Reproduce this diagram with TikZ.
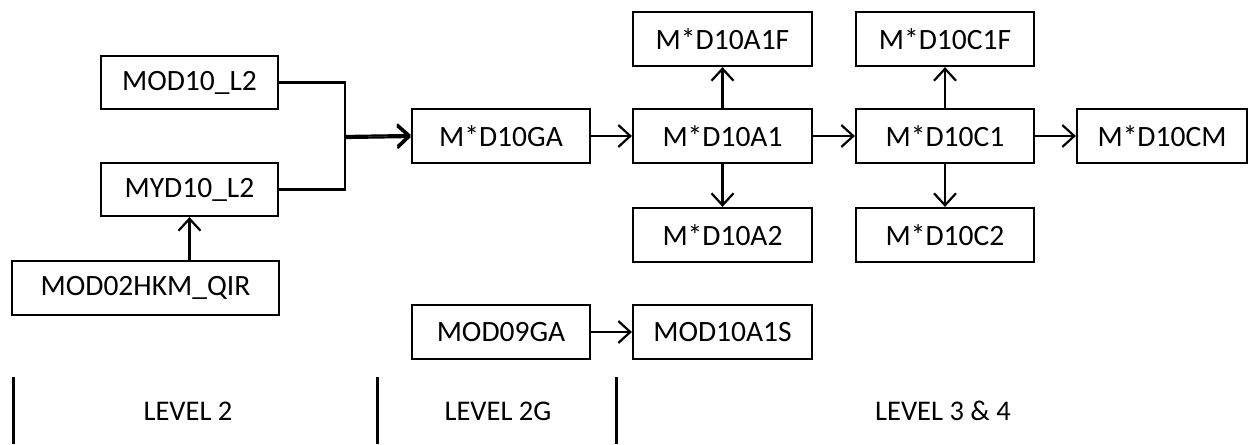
\documentclass[tikz,border=0pt]{standalone}
\usepackage{fontspec}
\setmainfont{Carlito}
\usetikzlibrary{arrows.meta}
\tikzset{
  prod/.style={draw, line width=2.2pt, minimum height=53pt, inner sep=0pt,
    font=\fontsize{29.5}{31}\selectfont},
  arr/.style={line width=2.2pt, -{Straight Barb[length=12pt,width=22pt,line width=2.2pt]}},
  wire/.style={line width=2.2pt},
  divider/.style={line width=3pt},
  lvl/.style={font=\fontsize{28.5}{30}\selectfont, inner sep=0pt}
}
\begin{document}
\begin{tikzpicture}[x=1pt,y=-1pt]
\useasboundingbox (0,0) rectangle (1249,444);
% Level 2 inputs
\node[prod, minimum width=177pt] (mod10l2) at (189.5,82.5) {MOD10\_L2};
\node[prod, minimum width=177pt] (myd10l2) at (189.5,189.5) {MYD10\_L2};
\node[prod, minimum width=267pt, minimum height=54pt] (mod02) at (145.5,288) {MOD02HKM\_QIR};
% Level 2G and Level 3/4 products
\node[prod, minimum width=178pt, minimum height=54pt] (ga) at (501,136) {M*D10GA};
\node[prod, minimum width=179pt, minimum height=54pt] (a1) at (722.5,136) {M*D10A1};
\node[prod, minimum width=179pt, minimum height=54pt] (a1f) at (722.5,39) {M*D10A1F};
\node[prod, minimum width=179pt, minimum height=54pt] (a2) at (722.5,235) {M*D10A2};
\node[prod, minimum width=178pt, minimum height=54pt] (c1) at (945,136) {M*D10C1};
\node[prod, minimum width=178pt, minimum height=54pt] (c1f) at (945,39) {M*D10C1F};
\node[prod, minimum width=178pt, minimum height=54pt] (c2) at (945,235) {M*D10C2};
\node[prod, minimum width=170pt, minimum height=54pt] (cm) at (1162,136) {M*D10CM};
\node[prod, minimum width=178pt, minimum height=54pt] (ga09) at (501,332) {MOD09GA};
\node[prod, minimum width=179pt, minimum height=54pt] (a1s) at (722.5,332) {MOD10A1S};
% connectors
\coordinate (jn) at (345,137);
\draw[wire] (mod10l2.east) -| (jn) |- (myd10l2.east);
\draw[arr] ([yshift=1pt]jn) -- ([yshift=1pt]ga.west);
\draw[arr] ([yshift=-1pt]jn) -- ([yshift=-1pt]ga.west);
\draw[arr] (mod02.north -| myd10l2) -- (myd10l2.south);
\draw[arr] (ga) -- (a1);
\draw[arr] (a1) -- (c1);
\draw[arr] (c1) -- (cm);
\draw[arr] (a1) -- (a1f);
\draw[arr] (a1) -- (a2);
\draw[arr] (c1) -- (c1f);
\draw[arr] (c1) -- (c2);
\draw[arr] (ga09) -- (a1s);
% level dividers
\coordinate (d1t) at (13,377);   \coordinate (d1b) at (13,444);
\coordinate (d2t) at (377,377);  \coordinate (d2b) at (377,444);
\coordinate (d3t) at (616,377);  \coordinate (d3b) at (616,444);
\draw[divider] (d1t) -- (d1b);
\draw[divider] (d2t) -- (d2b);
\draw[divider] (d3t) -- (d3b);
\node[lvl] (l2) at (188,411) {LEVEL 2};
\node[lvl] (l2g) at (498,411) {LEVEL 2G};
\node[lvl] (l34) at (943,411) {LEVEL 3 \& 4};
\end{tikzpicture}
\end{document}
